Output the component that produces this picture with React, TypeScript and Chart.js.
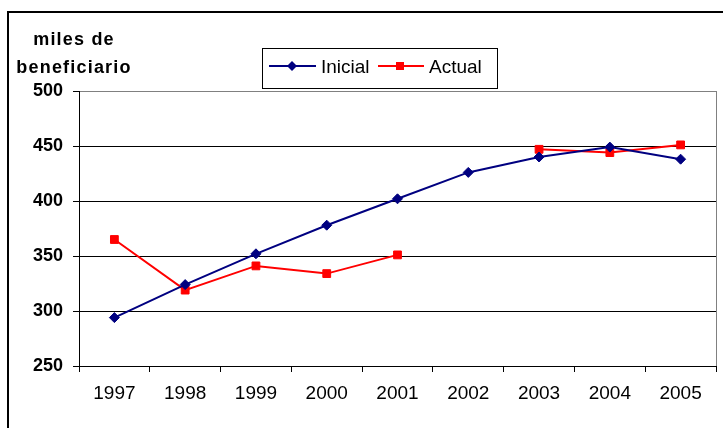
import React, { useEffect, useRef } from "react";
import { Chart, registerables } from "chart.js";

Chart.register(...registerables);

const years = ["1997", "1998", "1999", "2000", "2001", "2002", "2003", "2004", "2005"];
const inicial = [294, 324, 352, 378, 402, 426, 440, 449, 438];
const actual: (number | null)[] = [365, 319, 341, 334, 351, null, 447, 444, 451];
const unitLines = ["miles de", "beneficiario"];
const seriesNames = ["Inicial", "Actual"];

const NAVY = "#000080";
const RED = "#FF0000";
const FONT = '"Liberation Sans", Arial, sans-serif';

const decorPlugin = {
  id: "decor",
  afterDraw(chart: Chart) {
    const { ctx, chartArea } = chart;
    ctx.save();

    // outer chart frame
    ctx.strokeStyle = "#000";
    ctx.lineWidth = 2;
    ctx.beginPath();
    ctx.moveTo(8, 440);
    ctx.lineTo(8, 12);
    ctx.lineTo(740, 12);
    ctx.stroke();

    // plot area right border
    ctx.strokeStyle = "#808080";
    ctx.lineWidth = 1;
    ctx.beginPath();
    ctx.moveTo(Math.round(chartArea.right) + 0.5, chartArea.top);
    ctx.lineTo(Math.round(chartArea.right) + 0.5, chartArea.bottom);
    ctx.stroke();

    // axis unit label
    ctx.fillStyle = "#000";
    ctx.font = `bold 18px ${FONT}`;
    (ctx as any).letterSpacing = "1.2px";
    ctx.textAlign = "center";
    ctx.textBaseline = "alphabetic";
    ctx.fillText(unitLines[0], 74, 45);
    ctx.fillText(unitLines[1], 74, 73);
    (ctx as any).letterSpacing = "0px";

    // legend box
    const lx = 262, ly = 48, lw = 235, lh = 40;
    ctx.fillStyle = "#fff";
    ctx.fillRect(lx, ly, lw, lh);
    ctx.strokeStyle = "#000";
    ctx.lineWidth = 1;
    ctx.strokeRect(lx + 0.5, ly + 0.5, lw, lh);

    const cy = 66;
    // Inicial entry
    ctx.strokeStyle = NAVY;
    ctx.lineWidth = 2;
    ctx.beginPath();
    ctx.moveTo(269, cy);
    ctx.lineTo(316, cy);
    ctx.stroke();
    ctx.fillStyle = NAVY;
    ctx.beginPath();
    ctx.moveTo(292, cy - 5);
    ctx.lineTo(297, cy);
    ctx.lineTo(292, cy + 5);
    ctx.lineTo(287, cy);
    ctx.closePath();
    ctx.fill();

    // Actual entry
    ctx.strokeStyle = RED;
    ctx.beginPath();
    ctx.moveTo(378, cy);
    ctx.lineTo(424, cy);
    ctx.stroke();
    ctx.fillStyle = RED;
    ctx.fillRect(396, cy - 4, 8, 8);

    ctx.fillStyle = "#000";
    ctx.font = `19px ${FONT}`;
    ctx.textAlign = "left";
    ctx.fillText(seriesNames[0], 321, 73);
    ctx.fillText(seriesNames[1], 429, 73);

    ctx.restore();
  },
};

export default function App() {
  const ref = useRef<HTMLCanvasElement | null>(null);

  useEffect(() => {
    if (!ref.current) return;
    const chart = new Chart(ref.current, {
      type: "line",
      data: {
        labels: years,
        datasets: [
          {
            label: seriesNames[0],
            data: inicial,
            borderColor: NAVY,
            backgroundColor: NAVY,
            borderWidth: 2,
            pointStyle: "rectRot",
            pointRadius: 5,
            pointBorderWidth: 1,
            tension: 0,
          },
          {
            label: seriesNames[1],
            data: actual,
            borderColor: RED,
            backgroundColor: RED,
            borderWidth: 2,
            pointStyle: "rect",
            pointRadius: 5.5,
            pointBorderWidth: 1,
            spanGaps: false,
            tension: 0,
          },
        ],
      },
      options: {
        animation: false,
        responsive: false,
        devicePixelRatio: 1,
        layout: { padding: { top: 91, right: 7, left: 0, bottom: 0 } },
        plugins: {
          legend: { display: false },
          title: { display: false },
          tooltip: { enabled: false },
        },
        scales: {
          x: {
            type: "category",
            offset: true,
            grid: {
              offset: true,
              drawOnChartArea: false,
              drawTicks: true,
              tickLength: 6,
              tickColor: "#000",
              color: "#000",
            },
            border: { color: "#000", width: 1 },
            ticks: {
              color: "#000",
              font: { family: FONT, size: 19 },
              padding: 10,
              maxRotation: 0,
              autoSkip: false,
            },
            afterFit: (s: any) => {
              s.height = 62;
            },
          },
          y: {
            min: 250,
            max: 500,
            ticks: {
              stepSize: 50,
              color: "#000",
              font: { family: FONT, size: 18, weight: "bold" },
              padding: 10,
            },
            grid: {
              color: (c: any) => (c.tick && c.tick.value === 500 ? "#808080" : "#000"),
              tickColor: "#000",
              tickLength: 6,
              lineWidth: 1,
            },
            border: { color: "#000", width: 1 },
            afterFit: (s: any) => {
              s.width = 79;
            },
          },
        },
      },
      plugins: [decorPlugin],
    });
    return () => chart.destroy();
  }, []);

  return (
    <div style={{ position: "fixed", left: 0, top: 0, width: 723, height: 428, background: "#fff" }}>
      <canvas ref={ref} width={723} height={428} style={{ display: "block" }} />
    </div>
  );
}
